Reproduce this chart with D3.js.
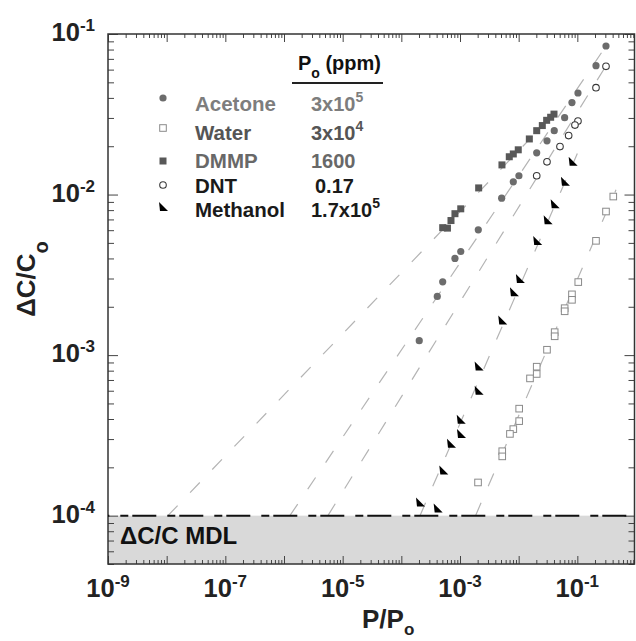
<!DOCTYPE html>
<html>
<head>
<meta charset="utf-8">
<script src="https://cdn.jsdelivr.net/npm/d3@7"></script>
<style>
body{margin:0;background:#fff;}
svg{display:block;font-family:Arial,"Liberation Sans",sans-serif;font-weight:bold;}
.tick line{stroke:#444;stroke-width:1;}
</style>
</head>
<body>
<svg id="chart" width="636" height="641"></svg>
<script>
// data ---------------------------------------

// tick label exponents
var xTickExp=[-9,-7,-5,-3,-1];
var yTickExp=[-1,-2,-3,-4];

// [P/Po, dC/Co]
var acetone=[[0.308,0.0842],[0.208,0.0635],[0.1025,0.0429],[0.081,0.0374],[0.0608,0.0301],[0.0404,0.025],[0.0304,0.0216],[0.0203,0.0182],[0.0101,0.0131],[0.0081,0.012],[0.00513,0.0095],[0.00205,0.00603],[0.00103,0.00442],[0.00082,0.004],[0.000507,0.00286],[0.00041,0.00232],[0.000202,0.00123]];
var water=[[0.41,0.00972],[0.308,0.00784],[0.208,0.00515],[0.1037,0.00285],[0.081,0.00239],[0.081,0.00221],[0.0608,0.00196],[0.0608,0.001875],[0.0411,0.00139],[0.0411,0.00131],[0.0304,0.00108],[0.0203,0.000847],[0.0203,0.000763],[0.0156,0.000716],[0.0102,0.000464],[0.0102,0.000388],[0.0081,0.000346],[0.0071,0.000323],[0.00525,0.000252],[0.00525,0.000234],[0.00203,0.000161]];
var dmmp=[[0.04,0.0317],[0.0351,0.0303],[0.030,0.029],[0.0253,0.0269],[0.0203,0.025],[0.0152,0.0222],[0.00984,0.019],[0.0081,0.0179],[0.00692,0.0172],[0.00519,0.0153],[0.00208,0.011],[0.00103,0.00815],[0.00082,0.0076],[0.000702,0.00689],[0.000611,0.00618],[0.000507,0.00622]];
var dnt=[[0.308,0.0629],[0.208,0.0463],[0.1025,0.0287],[0.0911,0.0271],[0.0711,0.0233],[0.0506,0.0199],[0.0304,0.016],[0.0203,0.0131]];
var methanol=[[0.0832,0.016],[0.0615,0.012],[0.0411,0.0087],[0.0312,0.00693],[0.0207,0.00513],[0.0105,0.00298],[0.0083,0.00246],[0.00525,0.00164],[0.00208,0.00085],[0.00208,0.0006],[0.00103,0.000396],[0.00104,0.000323],[0.000702,0.000281],[0.000519,0.000191],[0.000208,0.000121],[0.000416,0.000111]];

// fitted power-law lines, MDL crossing -> top end
var dmmpFit=[[1.05e-8,1e-4],[0.04,0.0318]];
var acetoneFit=[[1.26e-6,1e-4],[0.308,0.0842]];
var dntFit=[[5.6e-6,1e-4],[0.308,0.0633]];
var methanolFit=[[2.08e-4,1e-4],[0.1,0.018]];
var waterFit=[[1.84e-3,1e-4],[0.456,0.0107]];

var mdl=1e-4;

// legend
var legendNames=['Acetone','Water','DMMP','DNT','Methanol'];
var legendPo=['3x10','3x10','1600','0.17','1.7x10'];
var legendPoExp=['5','4','','','5'];


// layout --------------------------------------
var pLeft=108,pRight=636,pTop=34,pBottom=564;
var rightEdge=634.5;
var svg=d3.select('#chart');

var x=d3.scaleLog().domain([1e-9,1]).range([pLeft,pRight]);
var y=d3.scaleLog().domain([5e-5,0.1]).range([pBottom,pTop]);

var series=[
  {name:'Acetone',data:acetone,fit:acetoneFit,marker:'dot',fill:'#6c6c6c',stroke:'none',text:'#7d7d7d'},
  {name:'Water',data:water,fit:waterFit,marker:'square',fill:'#fff',stroke:'#8a8a8a',text:'#555'},
  {name:'DMMP',data:dmmp,fit:dmmpFit,marker:'sqfill',fill:'#585858',stroke:'none',text:'#686868'},
  {name:'DNT',data:dnt,fit:dntFit,marker:'circle',fill:'#fff',stroke:'#3a3a3a',text:'#1a1a1a'},
  {name:'Methanol',data:methanol,fit:methanolFit,marker:'tri',fill:'#000',stroke:'none',text:'#1a1a1a'}
];

svg.append('clipPath').attr('id','clip')
  .append('rect').attr('x',pLeft).attr('y',pTop).attr('width',rightEdge-pLeft).attr('height',pBottom-pTop);

// MDL band
svg.append('rect')
  .attr('x',pLeft).attr('y',y(mdl))
  .attr('width',rightEdge-pLeft).attr('height',pBottom-y(mdl))
  .attr('fill','#d9d9d9');


// axes --------------------------------------
var majorsX=d3.range(-9,1).map(e=>Math.pow(10,e));
var minorsX=[];
for(var e=-9;e<0;e++){for(var k=2;k<10;k++){minorsX.push(k*Math.pow(10,e));}}
var majorsY=d3.range(-4,0).map(e=>Math.pow(10,e));
var minorsY=[];
for(var e=-5;e<-1;e++){for(var k=2;k<10;k++){var v=k*Math.pow(10,e);if(v>=5e-5&&v<0.1)minorsY.push(v);}}

function tickAxis(axis,vals,size,tr){
  var g=svg.append('g').attr('transform',tr)
    .call(axis.tickValues(vals).tickSize(size).tickFormat(''));
  g.select('.domain').remove();
  return g;
}
tickAxis(d3.axisBottom(x),minorsX,-4,'translate(0,'+pBottom+')');
tickAxis(d3.axisBottom(x),majorsX,-8,'translate(0,'+pBottom+')');
tickAxis(d3.axisTop(x),minorsX,-4,'translate(0,'+pTop+')');
tickAxis(d3.axisTop(x),majorsX,-8,'translate(0,'+pTop+')');
tickAxis(d3.axisLeft(y),minorsY,-6,'translate('+pLeft+',0)');
tickAxis(d3.axisLeft(y),majorsY,-10,'translate('+pLeft+',0)');
tickAxis(d3.axisRight(y),minorsY,-6,'translate('+rightEdge+',0)');
tickAxis(d3.axisRight(y),majorsY,-10,'translate('+rightEdge+',0)');

svg.append('rect')
  .attr('x',pLeft).attr('y',pTop)
  .attr('width',rightEdge-pLeft).attr('height',pBottom-pTop)
  .attr('fill','none').attr('stroke','#333').attr('stroke-width',1.5);

// tick labels
yTickExp.forEach(function(e){
  var t=svg.append('text')
    .attr('x',95).attr('y',y(Math.pow(10,e))+7)
    .attr('text-anchor','end').attr('font-size',25.5).attr('fill','#222');
  t.append('tspan').text('10');
  t.append('tspan').attr('font-size',17).attr('dy',-10).text(e);
});
xTickExp.forEach(function(e){
  var t=svg.append('text')
    .attr('x',x(Math.pow(10,e))).attr('y',597)
    .attr('text-anchor','middle').attr('font-size',25.5).attr('fill','#222');
  t.append('tspan').text('10');
  t.append('tspan').attr('font-size',17).attr('dy',-10).text(e);
});

// axis titles
var yt=svg.append('text')
  .attr('transform','translate(35,279) rotate(-90)')
  .attr('text-anchor','middle').attr('font-size',26).attr('fill','#222');
yt.append('tspan').text('\u0394C/C');
yt.append('tspan').attr('font-size',20).attr('dy',13).text('o');

var xt=svg.append('text').attr('x',362).attr('y',628).attr('font-size',26).attr('fill','#222');
xt.append('tspan').text('P/P');
xt.append('tspan').attr('font-size',17).attr('dx',0).attr('dy',7).text('o');


// data marks ---------------------------------
var plot=svg.append('g').attr('clip-path','url(#clip)');

plot.selectAll('.fit').data(series).enter().append('line')
  .attr('class','fit')
  .attr('x1',d=>x(d.fit[0][0])).attr('y1',d=>y(d.fit[0][1]))
  .attr('x2',d=>x(d.fit[1][0])).attr('y2',d=>y(d.fit[1][1]))
  .attr('stroke','#b4b4b4').attr('stroke-width',1.2)
  .attr('stroke-dasharray','14,18');

// MDL dash-dot line
plot.append('line')
  .attr('x1',pLeft).attr('x2',rightEdge)
  .attr('y1',y(mdl)).attr('y2',y(mdl))
  .attr('stroke','#111').attr('stroke-width',2)
  .attr('stroke-dasharray','24,11,8,4').attr('stroke-dashoffset',22.7);

function drawMarker(g,s,px,py){
  if(s.marker=='dot'){
    g.append('circle').attr('cx',px).attr('cy',py).attr('r',3.6).attr('fill',s.fill);
  }else if(s.marker=='circle'){
    g.append('circle').attr('cx',px).attr('cy',py).attr('r',3.3)
      .attr('fill',s.fill).attr('stroke',s.stroke).attr('stroke-width',1.1);
  }else if(s.marker=='square'){
    g.append('rect').attr('x',px-3.3).attr('y',py-3.3).attr('width',6.6).attr('height',6.6)
      .attr('fill',s.fill).attr('stroke',s.stroke).attr('stroke-width',1);
  }else if(s.marker=='sqfill'){
    g.append('rect').attr('x',px-3.5).attr('y',py-3.5).attr('width',7).attr('height',7)
      .attr('fill',s.fill);
  }else if(s.marker=='tri'){
    g.append('path').attr('transform','translate('+px+','+py+')')
      .attr('d','M-4,-5L5,4L-3,4Z').attr('fill',s.fill);
  }
}

series.forEach(function(s){
  var g=plot.append('g').attr('class','series');
  s.data.forEach(function(d){drawMarker(g,s,x(d[0]),y(d[1]));});
});

svg.append('text')
  .attr('x',120).attr('y',544).attr('font-size',24).attr('fill','#111')
  .text('\u0394C/C MDL');


// legend -------------------------------------
var rowY=[98,128,161,185,207];
var textY=[111,140,168,193,217];

var head=svg.append('text').attr('x',298).attr('y',70).attr('font-size',20).attr('fill','#111');
head.append('tspan').text('P');
head.append('tspan').attr('font-size',14).attr('dy',8).text('o');
head.append('tspan').attr('dy',-8).text(' (ppm)');
svg.append('line').attr('x1',292).attr('x2',383).attr('y1',83).attr('y2',83)
  .attr('stroke','#222').attr('stroke-width',2);

var legend=svg.append('g').attr('class','legend');
legendNames.forEach(function(name,i){
  var s=series.find(d=>d.name==name);
  drawMarker(legend,s,163,rowY[i]);
  legend.append('text').attr('x',195).attr('y',textY[i]).attr('font-size',20.5).attr('fill',s.text).text(name);
  var t=legend.append('text').attr('x',name=='DNT'?315:311).attr('y',textY[i]).attr('font-size',20).attr('fill',s.text);
  t.append('tspan').text(legendPo[i]);
  if(legendPoExp[i]){
    t.append('tspan').attr('font-size',14).attr('dy',-9).text(legendPoExp[i]);
  }
});
</script>
</body>
</html>
